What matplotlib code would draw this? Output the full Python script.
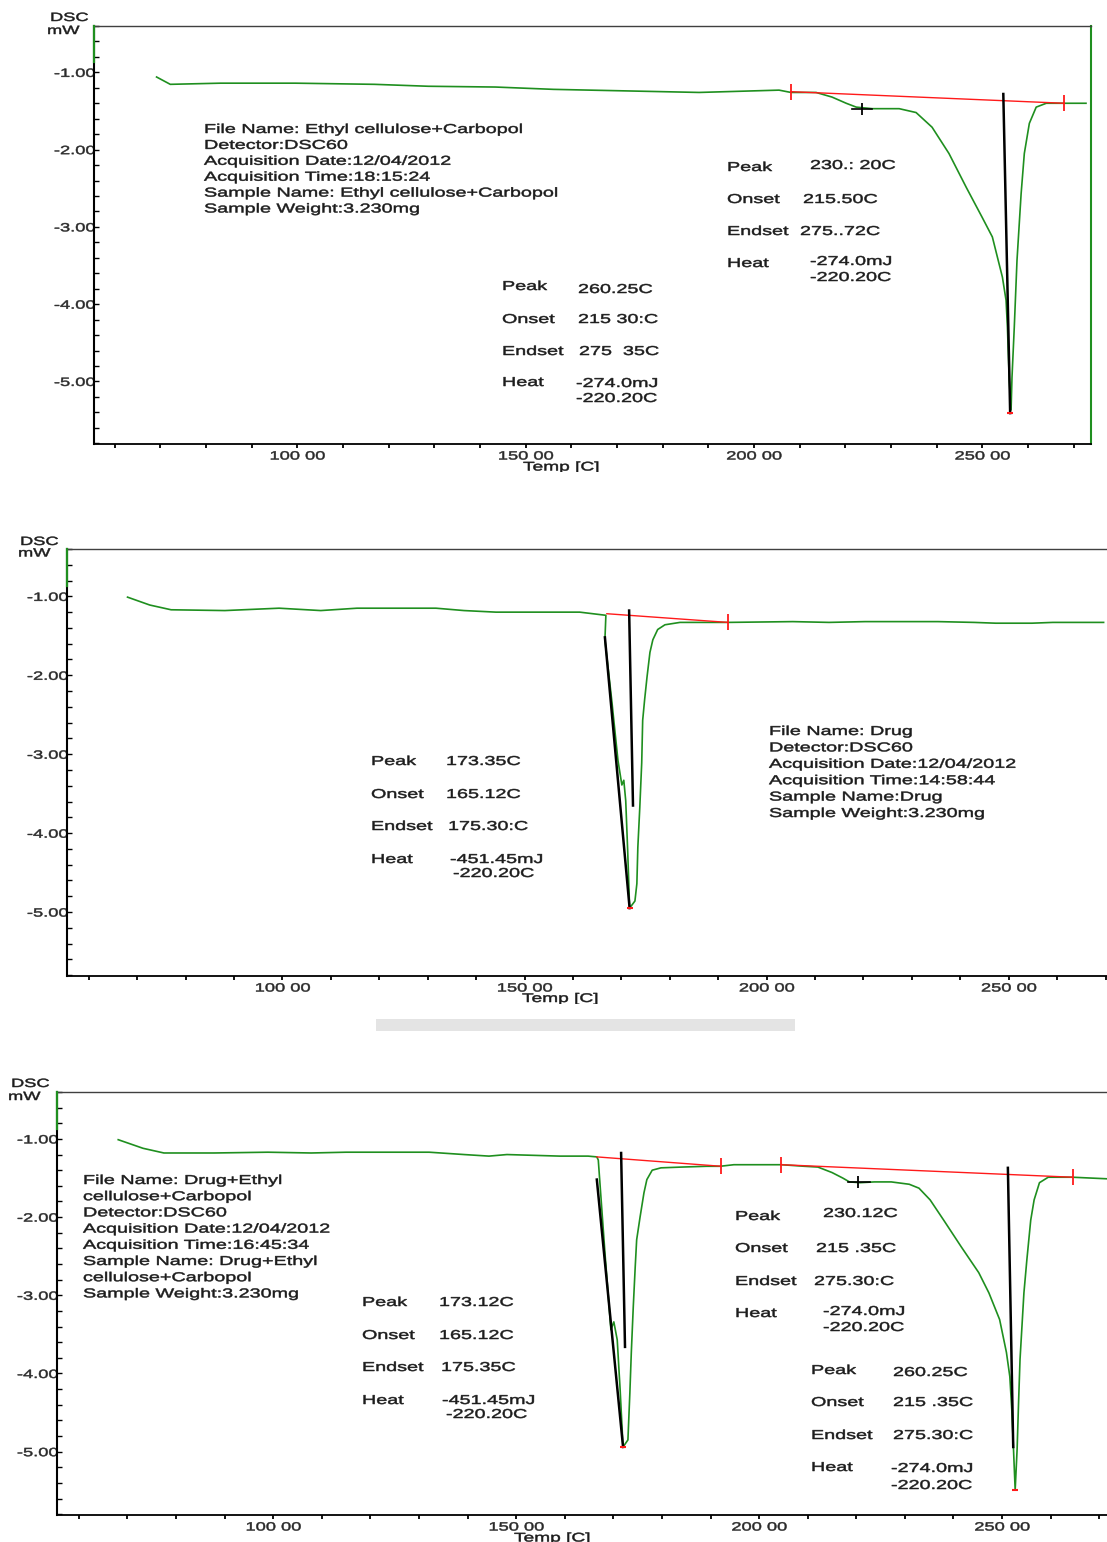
import matplotlib
matplotlib.use("Agg")
import matplotlib.pyplot as plt
from matplotlib.patheffects import AbstractPathEffect
from matplotlib.transforms import Affine2D, Bbox, TransformedBbox
from matplotlib.ticker import MultipleLocator

# --- picture size (px) and look ---
W, H = 1107, 1542
SX = 1.53            # the scanned text is stretched sideways
GREEN = "#1f8f1f"
RED = "#ff1a1a"
TXT = "#1c1c1c"
plt.rcParams["font.family"] = ["Liberation Sans", "DejaVu Sans"]

# --- shared axes ---
XLIM = (55.5, 273.8)
YLIM = (-5.81, -0.40)
X_MAJOR = [100, 150, 200, 250]
X_LABELS = ["100 00", "150 00", "200 00", "250 00"]
Y_MAJOR = [-1, -2, -3, -4, -5]
Y_LABELS = ["-1.00", "-2.00", "-3.00", "-4.00", "-5.00"]

# --- 1. Ethyl cellulose + Carbopol ---
ec_temp = [69.2, 72.2, 83.2, 99.6, 116.9, 128.7, 143.4, 156.1, 188.0, 205.5,
           208.1, 213.6, 217.1, 220.2, 222.4, 225.9, 231.8, 235.5, 239.0, 242.7,
           246.5, 250.0, 252.2, 254.4, 255.2, 255.5, 255.9, 256.3, 256.5, 257.0,
           257.6, 258.5, 259.2, 260.3, 261.8, 264.0, 268.4, 272.7]
ec_dsc = [-1.06, -1.155, -1.14, -1.14, -1.155, -1.18, -1.19, -1.22, -1.26, -1.23,
          -1.26, -1.26, -1.32, -1.40, -1.45, -1.47, -1.47, -1.52, -1.71, -2.05,
          -2.49, -2.88, -3.13, -3.65, -3.95, -4.30, -4.98, -5.37, -4.95, -4.30,
          -3.43, -2.57, -2.05, -1.66, -1.45, -1.40, -1.40, -1.40]
ec_base_t = [208.1, 267.9]
ec_base_y = [-1.25, -1.40]
ec_peak_t = [254.6, 256.1]
ec_peak_y = [-1.28, -5.41]
ec_step_t = [221.5, 223.7, 225.9]
ec_step_y = -1.47

# --- 2. Drug ---
drug_temp = [68.0, 72.6, 77.0, 88.1, 99.3, 107.9, 115.4, 131.7, 137.5, 144.1,
             156.1, 161.4, 166.8, 166.6, 168.0, 169.3, 170.1, 170.5, 170.9, 171.3,
             171.7, 172.8, 173.2, 173.4, 173.8, 174.2, 174.4, 174.8, 175.3, 175.9,
             176.5, 177.5, 179.0, 182.1, 188.9, 192.0, 205.4, 212.9, 220.3, 235.4,
             242.8, 247.3, 254.8, 259.1, 269.6]
drug_dsc = [-1.01, -1.11, -1.17, -1.18, -1.15, -1.18, -1.15, -1.15, -1.18, -1.20,
            -1.20, -1.20, -1.24, -1.55, -2.31, -3.08, -3.39, -3.33, -3.59, -4.22,
            -4.95, -4.86, -4.64, -4.18, -3.68, -3.11, -2.57, -2.31, -2.02, -1.71,
            -1.55, -1.42, -1.36, -1.33, -1.33, -1.33, -1.32, -1.33, -1.32, -1.32,
            -1.33, -1.34, -1.34, -1.33, -1.33]
drug_base_t = [167.0, 192.0]
drug_base_y = [-1.22, -1.33]
drug_peak_t = [171.6, 172.4]
drug_peak_y = [-1.18, -3.65]
drug_slope_t = [166.6, 171.7]
drug_slope_y = [-1.52, -4.95]

# --- 3. Drug + Ethyl cellulose + Carbopol ---
mix_temp = [68.1, 73.2, 77.5, 87.8, 98.9, 107.8, 115.0, 132.1, 139.3, 144.4,
            148.1, 159.0, 164.8, 166.6, 166.9, 168.3, 169.5, 170.1, 170.8, 171.4,
            172.0, 173.0, 173.4, 173.7, 174.1, 174.5, 174.8, 175.5, 176.3, 176.9,
            178.0, 179.8, 184.1, 189.2, 192.0, 194.8, 202.0, 204.6, 209.3, 212.1,
            215.0, 217.2, 218.6, 220.8, 223.7, 227.2, 230.9, 232.9, 235.2, 238.0,
            241.6, 245.2, 247.3, 249.5, 250.9, 251.6, 252.0, 252.3, 252.7, 253.1,
            253.4, 253.7, 254.5, 255.1, 255.9, 256.6, 257.7, 259.5, 264.5, 271.6]
mix_dsc = [-1.01, -1.12, -1.18, -1.18, -1.17, -1.18, -1.17, -1.17, -1.20, -1.22,
           -1.20, -1.22, -1.22, -1.23, -1.27, -2.48, -3.44, -3.34, -3.57, -4.21,
           -4.94, -4.85, -4.25, -3.73, -3.15, -2.64, -2.29, -2.00, -1.69, -1.52,
           -1.40, -1.37, -1.36, -1.35, -1.35, -1.33, -1.33, -1.33, -1.35, -1.36,
           -1.43, -1.50, -1.55, -1.56, -1.55, -1.55, -1.58, -1.63, -1.78, -2.04,
           -2.38, -2.71, -2.97, -3.31, -3.73, -4.04, -4.46, -4.88, -5.49, -4.97,
           -4.37, -3.82, -2.97, -2.55, -2.04, -1.78, -1.56, -1.49, -1.49, -1.51]
mix_base1_t = [166.6, 192.2]
mix_base1_y = [-1.23, -1.35]
mix_base2_t = [204.6, 264.5]
mix_base2_y = [-1.33, -1.49]
mix_peak1_t = [171.6, 172.4]
mix_peak1_y = [-1.18, -3.66]
mix_peak2_t = [251.2, 252.3]
mix_peak2_y = [-1.37, -4.94]
mix_slope_t = [166.6, 172.0]
mix_slope_y = [-1.52, -4.94]
mix_step_t = [218.3, 220.4, 222.8]
mix_step_y = -1.55


class Wide(AbstractPathEffect):
    """Stretch glyphs sideways around a point of the text (0 left, .5 centre, 1 right)
    and give them a thin outline so they look as heavy as the scan."""

    def __init__(self, sx=SX, anchor=0.0, lw=0.35):
        super().__init__()
        self.sx = sx
        self.anchor = anchor
        self.lw = lw

    def draw_path(self, renderer, gc, tpath, affine, rgbFace=None):
        v = tpath.vertices
        x0 = 0.0
        if len(v) and self.anchor:
            x0 = v[:, 0].min() + self.anchor * (v[:, 0].max() - v[:, 0].min())
        st = Affine2D().translate(-x0, 0).scale(self.sx, 1.0).translate(x0, 0)
        gc0 = renderer.new_gc()
        gc0.copy_properties(gc)
        if rgbFace is not None:
            gc0.set_foreground(rgbFace, isRGBA=True)
        gc0.set_linewidth(self.lw)
        renderer.draw_path(gc0, tpath, st + affine, rgbFace)
        gc0.restore()


fig = plt.figure(figsize=(W / 100, H / 100), dpi=100)


def box(left, top, right, bottom):
    return [left / W, 1 - bottom / H, (right - left) / W, (bottom - top) / H]


def put(px, py, s, size=9.3, **kw):
    return fig.text(px / W, 1 - py / H, s, fontsize=size, color=TXT,
                    ha="left", va="center", path_effects=[Wide(SX)], **kw)


def make_axes(rect, xmax, right_spine=False):
    ax = fig.add_axes(rect)
    ax.set_xlim(XLIM[0], xmax)
    ax.set_ylim(YLIM)
    ax.set_xticks(X_MAJOR, labels=X_LABELS)
    ax.set_yticks(Y_MAJOR, labels=Y_LABELS)
    ax.xaxis.set_minor_locator(MultipleLocator(10))
    ax.yaxis.set_minor_locator(MultipleLocator(0.2))
    ax.tick_params(axis="x", which="both", direction="out", length=3.2, width=1.3,
                   pad=1.5, labelsize=8.6, labelcolor="#2a2a2a")
    ax.tick_params(axis="y", which="both", direction="in", length=3.5, width=1.0,
                   pad=-0.8, labelsize=8.6, labelcolor="#2a2a2a")
    for lab in ax.get_xticklabels():
        lab.set_path_effects([Wide(SX, 0.5)])
    for lab in ax.get_yticklabels():
        lab.set_path_effects([Wide(SX, 1.0)])
    ax.spines["top"].set_color("#404040")
    ax.spines["top"].set_linewidth(1.0)
    ax.spines["bottom"].set_linewidth(1.3)
    ax.spines["left"].set_linewidth(1.5)
    ax.spines["right"].set_visible(right_spine)
    ax.spines["right"].set_color(GREEN)
    ax.spines["right"].set_linewidth(1.5)
    # top of the left frame is drawn in the curve colour
    ax.plot([XLIM[0], XLIM[0]], [YLIM[1], -0.87], color=GREEN, lw=1.6,
            clip_on=False, zorder=5)
    return ax


def baseline(ax, t, y, ends=(True, True)):
    ax.plot(t, y, color=RED, lw=1.0, zorder=3)
    for tt, yy, on in zip(t, y, ends):
        if on:
            ax.plot(tt, yy, marker="|", ms=12, mew=1.3, color=RED, zorder=4)


def step_mark(ax, t, y):
    ax.plot([t[0], t[2]], [y, y], color="black", lw=1.2, zorder=4)
    ax.plot(t[1], y, marker="|", ms=9, mew=1.3, color="black", zorder=4)


def temp_label(px, py, clip_py):
    t = put(px, py, "Temp [C]", size=9.0)
    t.set_clip_box(TransformedBbox(Bbox.from_extents(0, 1 - clip_py / H, 1, 1),
                                   fig.transFigure))
    t.set_clip_on(True)


# ================= panel 1 =================
ax1 = make_axes(box(94, 26, 1091, 444), XLIM[1], right_spine=True)
ax1.plot(ec_temp, ec_dsc, color=GREEN, lw=1.2, zorder=2)
baseline(ax1, ec_base_t, ec_base_y)
ax1.plot(ec_peak_t, ec_peak_y, color="black", lw=1.8, zorder=4)
ax1.plot(ec_peak_t[1], ec_peak_y[1], marker="_", ms=5, mew=1.5, color=RED, zorder=5)
step_mark(ax1, ec_step_t, ec_step_y)

put(50, 18, "DSC", size=8.6)
put(47, 31, "mW", size=8.6)
for i, line in enumerate(["File Name: Ethyl cellulose+Carbopol",
                          "Detector:DSC60",
                          "Acquisition Date:12/04/2012",
                          "Acquisition Time:18:15:24",
                          "Sample Name: Ethyl cellulose+Carbopol",
                          "Sample Weight:3.230mg"]):
    put(204, 130 + 15.9 * i, line)

put(727, 168, "Peak"); put(810, 166, "230.: 20C")
put(727, 200, "Onset"); put(803, 200, "215.50C")
put(727, 232, "Endset"); put(800, 232, "275..72C")
put(727, 264, "Heat"); put(810, 262, "-274.0mJ"); put(810, 278, "-220.20C")

put(502, 287, "Peak"); put(578, 290, "260.25C")
put(502, 320, "Onset"); put(578, 320, "215 30:C")
put(502, 352, "Endset"); put(579, 352, "275  35C")
put(502, 383, "Heat"); put(576, 384, "-274.0mJ"); put(576, 399, "-220.20C")
temp_label(523, 467.5, 472)

# ================= panel 2 =================
ax2 = make_axes(box(67, 549, 1107, 976), 270.3)
ax2.plot(drug_temp, drug_dsc, color=GREEN, lw=1.2, zorder=2)
baseline(ax2, drug_base_t, drug_base_y, ends=(False, True))
ax2.plot(drug_peak_t, drug_peak_y, color="black", lw=1.8, zorder=4)
ax2.plot(drug_slope_t, drug_slope_y, color="black", lw=1.8, zorder=4)
ax2.plot(drug_slope_t[1], drug_slope_y[1], marker="_", ms=5, mew=1.5, color=RED, zorder=5)

put(20, 542, "DSC", size=8.6)
put(18, 553.5, "mW", size=8.6)
for i, line in enumerate(["File Name: Drug",
                          "Detector:DSC60",
                          "Acquisition Date:12/04/2012",
                          "Acquisition Time:14:58:44",
                          "Sample Name:Drug",
                          "Sample Weight:3.230mg"]):
    put(769, 732 + 16.4 * i, line)

put(371, 762, "Peak"); put(446, 762, "173.35C")
put(371, 795, "Onset"); put(446, 795, "165.12C")
put(371, 827, "Endset"); put(448, 827, "175.30:C")
put(371, 860, "Heat"); put(450, 860, "-451.45mJ"); put(453, 874, "-220.20C")
temp_label(522, 999, 1004)

# grey strip between the second and third traces
fig.add_artist(plt.Rectangle((376 / W, 1 - 1031 / H), (795 - 376) / W, 12 / H,
                             transform=fig.transFigure, color="#e4e4e4", lw=0))

# ================= panel 3 =================
ax3 = make_axes(box(57, 1092, 1107, 1515), 271.6)
ax3.plot(mix_temp, mix_dsc, color=GREEN, lw=1.2, zorder=2)
baseline(ax3, mix_base1_t, mix_base1_y, ends=(False, True))
baseline(ax3, mix_base2_t, mix_base2_y)
ax3.plot(mix_peak1_t, mix_peak1_y, color="black", lw=1.8, zorder=4)
ax3.plot(mix_slope_t, mix_slope_y, color="black", lw=1.8, zorder=4)
ax3.plot(mix_peak2_t, mix_peak2_y, color="black", lw=1.8, zorder=4)
ax3.plot(mix_slope_t[1], mix_slope_y[1], marker="_", ms=5, mew=1.5, color=RED, zorder=5)
ax3.plot(mix_temp[58], mix_dsc[58], marker="_", ms=5, mew=1.5, color=RED, zorder=5)
step_mark(ax3, mix_step_t, mix_step_y)

put(11, 1084, "DSC", size=8.6)
put(8, 1097, "mW", size=8.6)
for i, line in enumerate(["File Name: Drug+Ethyl",
                          "cellulose+Carbopol",
                          "Detector:DSC60",
                          "Acquisition Date:12/04/2012",
                          "Acquisition Time:16:45:34",
                          "Sample Name: Drug+Ethyl",
                          "cellulose+Carbopol",
                          "Sample Weight:3.230mg"]):
    put(83, 1181 + 16.2 * i, line)

put(362, 1303, "Peak"); put(439, 1303, "173.12C")
put(362, 1336, "Onset"); put(439, 1336, "165.12C")
put(362, 1368, "Endset"); put(441, 1368, "175.35C")
put(362, 1401, "Heat"); put(442, 1401, "-451.45mJ"); put(446, 1415, "-220.20C")

put(735, 1217, "Peak"); put(823, 1214, "230.12C")
put(735, 1249, "Onset"); put(816, 1249, "215 .35C")
put(735, 1282, "Endset"); put(814, 1282, "275.30:C")
put(735, 1314, "Heat"); put(823, 1312, "-274.0mJ"); put(823, 1328, "-220.20C")

put(811, 1371, "Peak"); put(893, 1373, "260.25C")
put(811, 1403, "Onset"); put(893, 1403, "215 .35C")
put(811, 1436, "Endset"); put(893, 1436, "275.30:C")
put(811, 1468, "Heat"); put(891, 1469, "-274.0mJ"); put(891, 1486, "-220.20C")
temp_label(514, 1538.5, 1542)

fig.savefig("out.png", dpi=100)
